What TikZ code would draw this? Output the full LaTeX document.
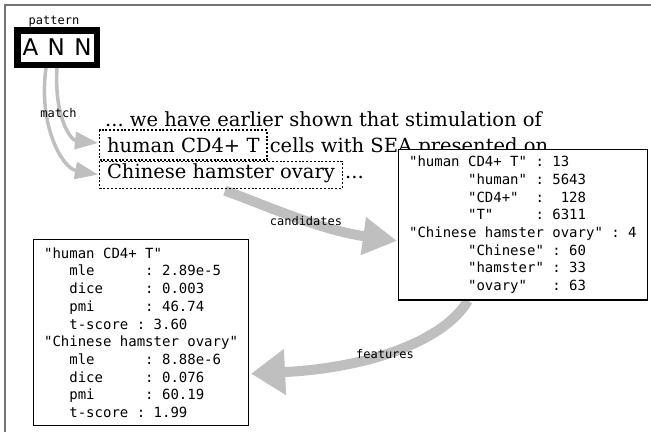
\documentclass[tikz,border=0pt]{standalone}
\usepackage{fontspec}
\newfontfamily\mymono{DejaVu Sans Mono}
\newfontfamily\myserif{DejaVu Serif}
\newfontfamily\mysans{DejaVu Sans}
\usetikzlibrary{arrows.meta,calc}
\pgfdeclarelayer{bg}
\pgfsetlayers{bg,main}
\tikzset{
  lbl/.style={font=\mymono\fontsize{12}{14}\selectfont, inner sep=0pt},
  sent/.style={font=\myserif\fontsize{19.5}{23}\selectfont\frenchspacing, inner sep=0pt},
  dotbox/.style={draw, line width=1.1pt, dash pattern=on 2pt off 1.8pt,
    font=\myserif\fontsize{19.5}{23}\selectfont\frenchspacing, inner xsep=7.5pt, inner ysep=0pt},
  codebox/.style={draw, line width=1.2pt, fill=white, align=left,
    font=\mymono\fontsize{14}{17.7}\selectfont\frenchspacing,
    inner xsep=10.5pt, inner ysep=8pt},
  thinarrow/.style={draw=black!25, line width=3.5pt, -{Triangle[length=23pt,width=17pt]}},
  fatarrow/.style={draw=black!25, line width=10pt},
}
\begin{document}
\begin{tikzpicture}[x=1pt,y=-1pt]
\useasboundingbox (0,0) rectangle (651,432);
\draw[black!55, line width=1.5pt] (5,432) -- (5,5) -- (651,5);

% pattern box
\node[draw, line width=6.5pt, minimum width=79.5pt, minimum height=34.5pt,
  inner sep=0pt, font=\mysans\fontsize{23}{26}\selectfont] (ann) at (57,47.5) {\spaceskip=9.4pt A N N};
\node[lbl, anchor=base] (pat) at (54,24) {pattern};

% sentence
\node[sent, anchor=base west] (l1) at (105,126) {... we have earlier shown that stimulation of};
\node[dotbox, text height=22pt, text depth=8pt, anchor=base west] (hum) at (99,152) {human CD4+ T};
\node[sent, anchor=base west] (l2) at ($(hum.base east)+(2,0)$) {cells with SEA presented on};
\node[dotbox, text height=17pt, text depth=10pt, anchor=north west] (chb) at (hum.south west) {Chinese hamster ovary};
\node[sent, anchor=base west] (l3) at ($(chb.base east)+(2,0)$) {...};

% candidate counts
\node[codebox, inner ysep=6.5pt, anchor=north west] (rbox) at (398,149) {%
"human~CD4+~T"~:~13\\
~~~~~~~"human"~:~5643\\
~~~~~~~"CD4+"~~:~~128\\
~~~~~~~"T"~~~~~:~6311\\
"Chinese~hamster~ovary"~:~4\\
~~~~~~~"Chinese"~:~60\\
~~~~~~~"hamster"~:~33\\
~~~~~~~"ovary"~~~:~63};

% features
\node[codebox, anchor=north west] (lbox) at (33,239) {%
"human~CD4+~T"\\
~~~mle~~~~~~:~2.89e-5\\
~~~dice~~~~~:~0.003\\
~~~pmi~~~~~~:~46.74\\
~~~t-score~:~3.60\\
"Chinese~hamster~ovary"\\
~~~mle~~~~~~:~8.88e-6\\
~~~dice~~~~~:~0.076\\
~~~pmi~~~~~~:~60.19\\
~~~t-score~:~1.99};

\begin{pgfonlayer}{bg}
\draw[thinarrow] ($(ann.south)+(-11,0)$) .. controls (38,125) and (62,168) .. ($(chb.west)+(-1,0)$);
\draw[thinarrow] (ann.south) .. controls (54,115) and (70,140) .. ($(hum.west)+(-1,-2)$);
\draw[fatarrow, -{Triangle[length=34pt,width=36pt]}] ($(chb.south)+(4,2)$) .. controls (265,205) and (320,230) .. ($(rbox.west)+(-1,16)$);
\draw[fatarrow, -{Triangle[length=34pt,width=44pt]}] ($(rbox.south)+(-55,0)$) .. controls (445,340) and (370,368) .. ($(lbox.east)+(2,41)$);
\end{pgfonlayer}

\node[lbl] (mt) at (58.5,113) {match};
\node[lbl] (cand) at (306,221) {candidates};
\node[lbl] (feat) at (385,354) {features};
\end{tikzpicture}
\end{document}
